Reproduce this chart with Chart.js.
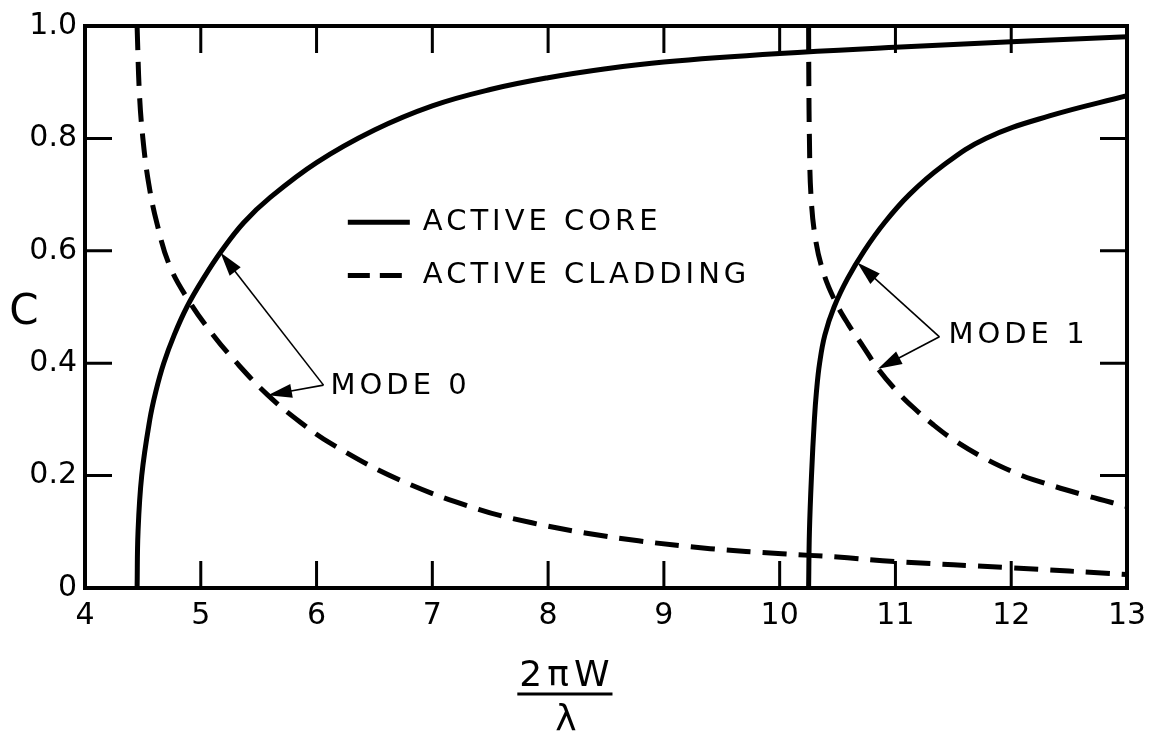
<!DOCTYPE html>
<html>
<head>
<meta charset="utf-8">
<script src="https://cdn.jsdelivr.net/npm/chart.js@4"></script>
<style>
  html, body { margin: 0; padding: 0; background: #fff; }
  #wrap { width: 1166px; height: 738px; }
</style>
</head>
<body>
<div id="wrap"><canvas id="chart" width="1166" height="738"></canvas></div>
<script>
// valores (C contra 2piW/lambda)
const coreMode0X = [4.45, 4.458, 4.49, 4.56, 4.612, 4.68, 4.77, 4.88, 5.02, 5.18, 5.37, 5.6, 6.0, 6.5, 7, 7.5, 8, 8.5, 9, 10, 11, 12, 13];
const coreMode0Y = [0, 0.1, 0.2, 0.3, 0.35, 0.4, 0.45, 0.5, 0.55, 0.6, 0.65, 0.695, 0.757, 0.815, 0.858, 0.887, 0.908, 0.924, 0.936, 0.951, 0.962, 0.972, 0.981];

const cladMode0X = [4.45, 4.47, 4.5, 4.55, 4.62, 4.73, 4.9, 5.1, 5.3, 5.57, 5.86, 6.14, 6.72, 7.4, 7.86, 8.32, 8.78, 9.4, 10.02, 10.5, 11, 12, 13];
const cladMode0Y = [1.0, 0.88, 0.8, 0.72, 0.65, 0.574, 0.51, 0.452, 0.403, 0.345, 0.295, 0.255, 0.192, 0.14, 0.116, 0.098, 0.084, 0.07, 0.061, 0.055, 0.047, 0.036, 0.024];

const coreMode1X = [10.25, 10.257, 10.275, 10.3, 10.318, 10.345, 10.39, 10.47, 10.585, 10.73, 10.905, 11.12, 11.4, 11.78, 12.33, 13];
const coreMode1Y = [0, 0.1, 0.2, 0.3, 0.35, 0.4, 0.45, 0.5, 0.55, 0.6, 0.65, 0.7, 0.75, 0.8, 0.84, 0.876];

const cladMode1X = [10.25, 10.252, 10.257, 10.27, 10.31, 10.38, 10.48, 10.59, 10.72, 10.85, 11.0, 11.15, 11.33, 11.5, 11.76, 12.0, 12.19, 12.62, 13];
const cladMode1Y = [1.0, 0.9, 0.8, 0.7, 0.62, 0.56, 0.51, 0.47, 0.43, 0.39, 0.353, 0.322, 0.29, 0.264, 0.232, 0.208, 0.193, 0.166, 0.145];

const xTicks = [4, 5, 6, 7, 8, 9, 10, 11, 12, 13];
const yTicks = [0, 0.2, 0.4, 0.6, 0.8, 1.0];

const legendLabels = ['ACTIVE CORE', 'ACTIVE CLADDING'];
const modeLabels = ['MODE 0', 'MODE 1'];

const FONT = '"DejaVu Sans", "Liberation Sans", sans-serif';

function pts(xs, ys) {
    return xs.map((x, i) => ({ x: x, y: ys[i] }));
}

function lineSet(label, xs, ys, dashed) {
    return {
        label: label,
        data: pts(xs, ys),
        showLine: true,
        borderColor: '#000',
        borderWidth: 5,
        borderDash: dashed ? [24, 12] : [],
        pointRadius: 0,
        tension: 0.4,
        fill: false
    };
}

function arrow(ctx, x0, y0, x1, y1) {
    const ang = Math.atan2(y1 - y0, x1 - x0);
    const len = 24, half = 7;
    ctx.beginPath();
    ctx.moveTo(x0, y0);
    ctx.lineTo(x1 - Math.cos(ang) * len * 0.8, y1 - Math.sin(ang) * len * 0.8);
    ctx.stroke();
    ctx.beginPath();
    ctx.moveTo(x1, y1);
    ctx.lineTo(x1 - Math.cos(ang) * len - Math.sin(ang) * half, y1 - Math.sin(ang) * len + Math.cos(ang) * half);
    ctx.lineTo(x1 - Math.cos(ang) * len + Math.sin(ang) * half, y1 - Math.sin(ang) * len - Math.cos(ang) * half);
    ctx.closePath();
    ctx.fill();
}

// marco, marcas interiores, leyenda, flechas y titulos
const decor = {
    id: 'decor',
    afterDraw(chart) {
        const ctx = chart.ctx;
        const a = chart.chartArea;
        const xs = chart.scales.x, ys = chart.scales.y;
        const px = v => xs.getPixelForValue(v);
        const py = v => ys.getPixelForValue(v);
        ctx.save();
        ctx.strokeStyle = '#000';
        ctx.fillStyle = '#000';

        // marco
        ctx.lineWidth = 4;
        ctx.setLineDash([]);
        ctx.strokeRect(a.left, a.top, a.right - a.left, a.bottom - a.top);

        // marcas hacia dentro
        ctx.lineWidth = 3;
        const tl = 27;
        xTicks.forEach(v => {
            const x = px(v);
            ctx.beginPath();
            ctx.moveTo(x, a.bottom); ctx.lineTo(x, a.bottom - tl);
            ctx.moveTo(x, a.top); ctx.lineTo(x, a.top + tl);
            ctx.stroke();
        });
        yTicks.forEach(v => {
            const y = py(v);
            ctx.beginPath();
            ctx.moveTo(a.left, y); ctx.lineTo(a.left + tl, y);
            ctx.moveTo(a.right, y); ctx.lineTo(a.right - tl, y);
            ctx.stroke();
        });

        // leyenda
        const lx = px(6.27);
        const ly1 = py(0.651), ly2 = py(0.556);
        ctx.lineWidth = 5;
        ctx.beginPath();
        ctx.moveTo(lx, ly1); ctx.lineTo(lx + 62, ly1);
        ctx.stroke();
        ctx.setLineDash([22, 10]);
        ctx.beginPath();
        ctx.moveTo(lx, ly2); ctx.lineTo(lx + 57, ly2);
        ctx.stroke();
        ctx.setLineDash([]);
        ctx.font = '29px ' + FONT;
        ctx.textBaseline = 'middle';
        ctx.textAlign = 'left';
        ctx.letterSpacing = '4px';
        ctx.fillText(legendLabels[0], lx + 75, ly1);
        ctx.fillText(legendLabels[1], lx + 75, ly2);

        // flechas de modos
        ctx.lineWidth = 1.6;
        const v0 = [px(6.06), py(0.361)];
        arrow(ctx, v0[0], v0[1], px(5.17), py(0.597));
        arrow(ctx, v0[0], v0[1], px(5.58), py(0.343));
        const v1 = [px(11.38), py(0.447)];
        arrow(ctx, v1[0], v1[1], px(10.67), py(0.579));
        arrow(ctx, v1[0], v1[1], px(10.85), py(0.39));
        ctx.font = '29px ' + FONT;
        ctx.fillText(modeLabels[0], v0[0] + 7, v0[1] + 1);
        ctx.fillText(modeLabels[1], v1[0] + 9, v1[1] - 1);

        // titulo eje y
        ctx.letterSpacing = '0px';
        ctx.font = '42px ' + FONT;
        ctx.textAlign = 'center';
        ctx.fillText('C', 24, py(0.49));

        // titulo eje x: fraccion 2piW / lambda
        const cx = px(8.145);
        ctx.font = '36px ' + FONT;
        ctx.letterSpacing = '5px';
        ctx.textBaseline = 'alphabetic';
        const w = ctx.measureText('2πW').width;
        ctx.fillText('2πW', cx + 2, 686);
        ctx.lineWidth = 3;
        ctx.beginPath();
        ctx.moveTo(cx - w / 2, 694); ctx.lineTo(cx + w / 2, 694);
        ctx.stroke();
        ctx.letterSpacing = '0px';
        ctx.fillText('λ', cx + 1, 730);
        ctx.restore();
    }
};

const chart = new Chart(document.getElementById('chart').getContext('2d'), {
    type: 'scatter',
    data: {
        datasets: [
            lineSet('ACTIVE CORE mode 0', coreMode0X, coreMode0Y, false),
            lineSet('ACTIVE CLADDING mode 0', cladMode0X, cladMode0Y, true),
            lineSet('ACTIVE CORE mode 1', coreMode1X, coreMode1Y, false),
            lineSet('ACTIVE CLADDING mode 1', cladMode1X, cladMode1Y, true)
        ]
    },
    options: {
        responsive: false,
        animation: false,
        devicePixelRatio: 1,
        layout: { padding: { top: 18, right: 39, left: 0, bottom: 0 } },
        plugins: {
            legend: { display: false },
            tooltip: { enabled: false },
            title: { display: false }
        },
        scales: {
            x: {
                type: 'linear',
                min: 4,
                max: 13,
                afterFit: s => { s.height = 150; },
                grid: { display: false, drawTicks: false },
                border: { display: false },
                ticks: {
                    stepSize: 1,
                    autoSkip: false,
                    maxRotation: 0,
                    padding: 10,
                    color: '#000',
                    font: { family: FONT, size: 30 }
                }
            },
            y: {
                type: 'linear',
                min: 0,
                max: 1,
                afterFit: s => { s.width = 85; },
                grid: { display: false, drawTicks: false },
                border: { display: false },
                ticks: {
                    stepSize: 0.2,
                    padding: 8,
                    color: '#000',
                    font: { family: FONT, size: 30 },
                    callback: v => (v === 0 ? '0' : v.toFixed(1))
                }
            }
        }
    },
    plugins: [decor]
});
</script>
</body>
</html>
